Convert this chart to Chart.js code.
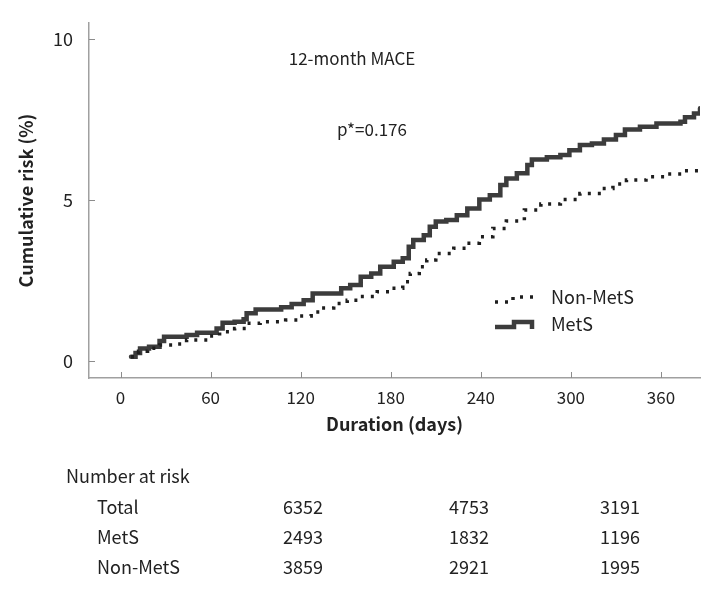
<!DOCTYPE html>
<html>
<head>
<meta charset="utf-8">
<script src="https://cdn.jsdelivr.net/npm/chart.js@4.4.0/dist/chart.umd.min.js"></script>
<style>
html, body { margin: 0; padding: 0; background: #fff; }
#wrap { width: 721px; height: 597px; }
</style>
</head>
<body>
<div id="wrap"><canvas id="km" width="721" height="597"></canvas></div>
<script>
// cumulative risk (%), day of each step
var metsDays = [7, 10, 13, 19, 26, 29, 44, 51, 64, 68, 76, 82, 84, 90, 107, 114, 122, 128, 147, 153, 160, 167, 173, 182, 188, 192, 195, 202, 206, 210, 217, 224, 231, 239, 246, 253, 257, 264, 271, 274, 284, 293, 299, 306, 314, 322, 330, 336, 346, 357, 373, 376, 382, 386];
var metsRisk = [0.13, 0.25, 0.39, 0.44, 0.62, 0.75, 0.81, 0.88, 1.01, 1.19, 1.22, 1.3, 1.48, 1.6, 1.67, 1.77, 1.89, 2.1, 2.26, 2.36, 2.62, 2.72, 2.93, 3.08, 3.19, 3.55, 3.76, 3.91, 4.17, 4.33, 4.38, 4.53, 4.74, 5.02, 5.15, 5.47, 5.67, 5.83, 6.09, 6.26, 6.33, 6.4, 6.55, 6.71, 6.76, 6.88, 7.02, 7.19, 7.28, 7.38, 7.43, 7.57, 7.69, 7.85];
var nonDays = [7, 12, 18, 26, 37, 44, 59, 66, 76, 84, 93, 110, 118, 127, 133, 142, 151, 159, 171, 180, 188, 193, 199, 204, 210, 222, 231, 239, 248, 257, 269, 280, 293, 306, 320, 328, 337, 350, 364, 375, 385];
var nonRisk = [0.13, 0.3, 0.4, 0.5, 0.53, 0.65, 0.78, 0.91, 1.01, 1.17, 1.22, 1.27, 1.4, 1.52, 1.65, 1.79, 1.89, 2.0, 2.15, 2.26, 2.46, 2.72, 2.93, 3.14, 3.34, 3.5, 3.66, 3.86, 4.12, 4.35, 4.69, 4.88, 5.02, 5.2, 5.36, 5.5, 5.62, 5.72, 5.81, 5.91, 6.06];

var xTicks = [0, 60, 120, 180, 240, 300, 360];
var yTicks = [0, 5, 10];

var riskRows = ['Total', 'MetS', 'Non-MetS'];
var riskTotal = [6352, 4753, 3191];
var riskMets = [2493, 1832, 1196];
var riskNon = [3859, 2921, 1995];

var FONT = "'Noto Sans CJK KR', 'Noto Sans', sans-serif";
var INK = '#222';

function pts(days, vals) {
  return days.map(function (d, i) { return { x: d, y: vals[i] }; });
}

// small tick marks pointing into the plot
var innerTicks = {
  id: 'innerTicks',
  afterDraw: function (chart) {
    var ctx = chart.ctx, xs = chart.scales.x, ys = chart.scales.y;
    ctx.save();
    ctx.strokeStyle = '#8c8c8c';
    ctx.lineWidth = 1;
    ctx.beginPath();
    xTicks.forEach(function (v) {
      var px = Math.round(xs.getPixelForValue(v)) + 0.5;
      ctx.moveTo(px, ys.bottom);
      ctx.lineTo(px, ys.bottom - 6);
    });
    yTicks.forEach(function (v) {
      var py = Math.round(ys.getPixelForValue(v)) + 0.5;
      ctx.moveTo(xs.left, py);
      ctx.lineTo(xs.left + 6, py);
    });
    ctx.stroke();
    ctx.restore();
  }
};

var notes = {
  id: 'notes',
  afterDraw: function (chart) {
    var ctx = chart.ctx;
    ctx.save();
    ctx.fillStyle = INK;
    ctx.font = '17px ' + FONT;
    ctx.textBaseline = 'middle';
    ctx.textAlign = 'center';
    ctx.fillText('12-month MACE', 352, 59);
    ctx.fillText('p*=0.176', 372, 130);

    // legend
    ctx.font = '18px ' + FONT;
    ctx.textAlign = 'left';
    ctx.fillText('Non-MetS', 551, 297);
    ctx.fillText('MetS', 551, 324);
    ctx.lineWidth = 3.5;
    ctx.strokeStyle = '#1e1e1e';
    ctx.setLineDash([3, 7]);
    ctx.beginPath();
    ctx.moveTo(495, 302); ctx.lineTo(513, 302); ctx.lineTo(513, 297); ctx.lineTo(538, 297);
    ctx.stroke();
    ctx.setLineDash([]);
    ctx.lineWidth = 4.5;
    ctx.strokeStyle = '#3c3c3c';
    ctx.beginPath();
    ctx.moveTo(495, 327); ctx.lineTo(514, 327); ctx.lineTo(514, 322); ctx.lineTo(532, 322); ctx.lineTo(532, 329);
    ctx.stroke();

    // number at risk table
    ctx.fillStyle = INK;
    ctx.font = '18px ' + FONT;
    ctx.fillText('Number at risk', 66, 476);
    var rowY = [507, 537, 567];
    var colX = [303, 469, 620];
    var rows = [riskTotal, riskMets, riskNon];
    riskRows.forEach(function (name, r) {
      ctx.textAlign = 'left';
      ctx.fillText(name, 97, rowY[r]);
      ctx.textAlign = 'center';
      rows[r].forEach(function (n, c) { ctx.fillText(String(n), colX[c], rowY[r]); });
    });
    ctx.restore();
  }
};

new Chart(document.getElementById('km'), {
  type: 'line',
  data: {
    datasets: [
      {
        label: 'Non-MetS',
        data: pts(nonDays, nonRisk),
        stepped: true,
        borderColor: '#1e1e1e',
        borderWidth: 3.5,
        borderDash: [3, 7],
        pointRadius: 0,
        fill: false
      },
      {
        label: 'MetS',
        data: pts(metsDays, metsRisk),
        stepped: true,
        borderColor: '#3c3c3c',
        borderWidth: 4.5,
        borderCapStyle: 'round',
        pointRadius: 0,
        fill: false
      }
    ]
  },
  options: {
    responsive: false,
    animation: false,
    devicePixelRatio: 1,
    layout: { padding: { left: 0, top: 23, right: 21, bottom: 159 } },
    plugins: { legend: { display: false }, tooltip: { enabled: false } },
    scales: {
      x: {
        type: 'linear',
        min: -21,
        max: 386,
        afterBuildTicks: function (s) { s.ticks = xTicks.map(function (v) { return { value: v }; }); },
        afterFit: function (s) { s.height = 60; },
        grid: { display: false },
        border: { display: true, color: '#a0a0a0', width: 1.5 },
        ticks: { padding: 1, color: INK, font: { family: FONT, size: 17 }, maxRotation: 0 },
        title: { display: true, text: 'Duration (days)', color: INK, font: { family: FONT, size: 18, weight: 'bold' }, padding: { top: 0, bottom: 3 } }
      },
      y: {
        type: 'linear',
        min: -0.528,
        max: 10.5,
        afterBuildTicks: function (s) { s.ticks = yTicks.map(function (v) { return { value: v }; }); },
        afterFit: function (s) { s.width = 89; },
        grid: { display: false },
        border: { display: true, color: '#a0a0a0', width: 1.5 },
        ticks: { padding: 8, color: INK, font: { family: FONT, size: 18 } },
        title: { display: true, text: 'Cumulative risk (%)', color: INK, font: { family: FONT, size: 18, weight: 'bold' }, padding: { top: 15, bottom: 0 } }
      }
    }
  },
  plugins: [innerTicks, notes]
});
</script>
</body>
</html>
